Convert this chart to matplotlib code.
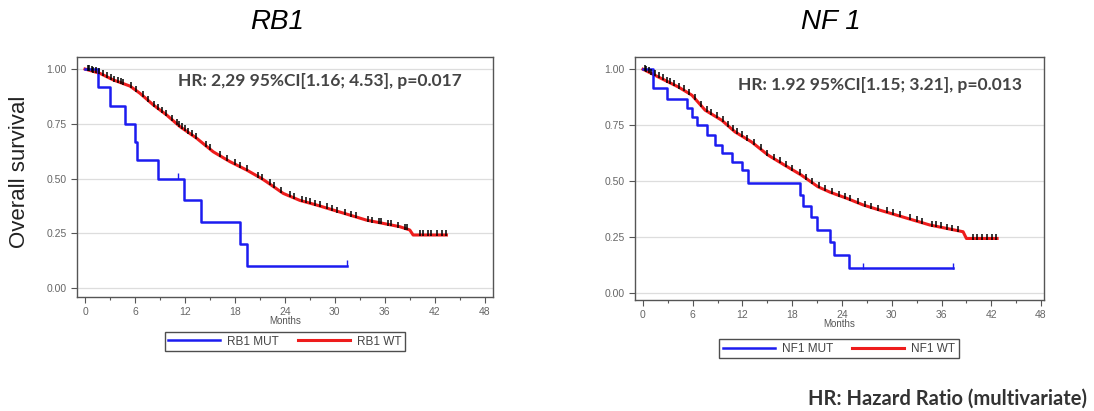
import numpy as np
import matplotlib
matplotlib.use("Agg")
import matplotlib.pyplot as plt
from matplotlib.ticker import MultipleLocator

plt.rcParams["font.family"] = ["Liberation Sans", "DejaVu Sans"]

# ---- data ----
# RB1 mutant: Kaplan-Meier steps (time in months, survival)
rb1_mut_t = [0, 1.5, 3.0, 4.8, 6.0, 6.2, 8.8, 11.9, 13.9, 18.6, 19.5, 31.4]
rb1_mut_s = [1.0, 0.917, 0.833, 0.75, 0.667, 0.583, 0.5, 0.4, 0.3, 0.2, 0.1, 0.1]
rb1_mut_cens = [11.2, 31.4]

# RB1 wild type
rb1_wt_t = [0, 1.8, 3.4, 5.4, 6.6, 8.2, 9.8, 11.4, 13.4, 15.4, 17.4, 19.4, 21.2,
            21.8, 23.8, 25.8, 27.8, 29.8, 31.8, 33.8, 35.8, 37.8, 39.0, 39.4, 43.4]
rb1_wt_s = [1.0, 0.98, 0.95, 0.922, 0.889, 0.836, 0.79, 0.737, 0.684, 0.622, 0.577,
            0.539, 0.50, 0.485, 0.432, 0.40, 0.379, 0.356, 0.333, 0.31, 0.295, 0.28,
            0.265, 0.242, 0.242]
rb1_wt_cens = [0.3, 0.5, 0.8, 1.0, 1.3, 1.7, 2.2, 2.6, 3.1, 3.5, 4.0, 4.3, 4.6, 5.5,
               6.1, 7.0, 7.6, 8.3, 8.8, 9.3, 9.7, 10.5, 11.0, 11.3, 11.6, 12.0, 12.4,
               12.8, 13.3, 14.5, 15.0, 16.2, 17.0, 18.0, 18.6, 19.4, 20.8, 21.3, 22.2,
               22.7, 23.5, 24.6, 25.1, 26.1, 26.5, 27.0, 27.6, 28.2, 29.0, 29.6, 30.3,
               31.2, 32.0, 32.6, 34.0, 34.5, 35.3, 35.6, 36.4, 36.8, 37.6, 38.4, 38.7,
               40.2, 40.6, 41.2, 41.6, 42.3, 42.9, 43.3]
rb1_hr = "HR: 2,29 95%CI[1.16; 4.53], p=0.017"

# NF1 mutant
nf1_mut_t = [0, 1.25, 2.9, 5.3, 5.9, 6.5, 7.7, 8.7, 9.5, 10.7, 11.9, 12.7, 18.9,
             19.3, 20.3, 21.0, 22.6, 23.0, 24.8, 37.4]
nf1_mut_s = [1.0, 0.914, 0.869, 0.825, 0.787, 0.75, 0.705, 0.66, 0.624, 0.586, 0.549,
             0.49, 0.44, 0.39, 0.34, 0.28, 0.23, 0.17, 0.11, 0.11]
nf1_mut_cens = [26.5, 37.4]

# NF1 wild type
nf1_wt_t = [0, 2.25, 4.3, 5.9, 7.5, 9.5, 11.1, 13.1, 15.1, 17.1, 19.1, 21.1, 22.6,
            24.6, 26.6, 28.6, 30.6, 32.6, 34.6, 36.6, 38.6, 39.0, 42.7]
nf1_wt_s = [1.0, 0.958, 0.92, 0.884, 0.817, 0.772, 0.72, 0.675, 0.616, 0.571, 0.527,
            0.475, 0.45, 0.423, 0.393, 0.37, 0.348, 0.326, 0.304, 0.289, 0.274, 0.244,
            0.244]
nf1_wt_cens = [0.2, 0.4, 0.7, 1.0, 1.4, 1.9, 2.4, 2.9, 3.3, 3.8, 4.4, 4.9, 5.6, 6.3,
               7.0, 7.7, 8.2, 8.9, 9.6, 10.2, 10.8, 11.3, 11.9, 12.6, 13.4, 14.2, 15.0,
               15.8, 16.5, 17.3, 18.0, 18.9, 19.7, 20.4, 21.2, 22.0, 22.8, 23.6, 24.4,
               25.0, 25.9, 26.8, 27.5, 28.3, 29.4, 30.1, 31.0, 32.2, 33.0, 33.6, 34.8,
               35.3, 35.9, 36.6, 37.3, 38.0, 39.8, 40.3, 40.9, 41.5, 42.1, 42.6]
nf1_hr = "HR: 1.92 95%CI[1.15; 3.21], p=0.013"

BLUE = "#1c1cf0"
RED = "#ee1c1c"
GRAY = "#555555"

fig = plt.figure(figsize=(10.94, 4.11), dpi=100)
fig.patch.set_facecolor("white")


def step_at(times, ts, ss):
    # survival value of a step curve at the given times
    idx = np.searchsorted(ts, times, side="right") - 1
    return np.asarray(ss)[np.clip(idx, 0, len(ss) - 1)]


def km_panel(ax, mut_t, mut_s, mut_c, wt_t, wt_s, wt_c, hr, hr_pos, name, xlim, ylim):
    ax.set_xlim(*xlim)
    ax.set_ylim(*ylim)
    for y in [0, 0.25, 0.5, 0.75, 1.0]:
        ax.axhline(y, color="#dddddd", lw=0.9, zorder=0)

    ax.plot(mut_t, mut_s, drawstyle="steps-post", color=BLUE, lw=1.8, zorder=3,
            label=name + " MUT")
    ax.plot(mut_c, step_at(mut_c, mut_t, mut_s) + 0.012, ls="none", marker="|",
            ms=5, mew=1.0, color=BLUE, zorder=3)

    ax.plot(wt_t, wt_s, color=RED, lw=2.2, zorder=2, label=name + " WT")
    ax.plot(wt_c, np.interp(wt_c, wt_t, wt_s) + 0.008, ls="none", marker="|",
            ms=5, mew=1.1, color="black", zorder=4)

    ax.set_xticks(range(0, 49, 6))
    ax.xaxis.set_minor_locator(MultipleLocator(3))
    ax.set_yticks([0, 0.25, 0.5, 0.75, 1.0])
    ax.set_yticklabels(["0.00", "0.25", "0.50", "0.75", "1.00"])
    ax.tick_params(labelsize=7.5, colors=GRAY, length=4, width=0.8)
    ax.tick_params(which="minor", length=2.5, width=0.8, colors=GRAY)
    for lab in ax.get_xticklabels() + ax.get_yticklabels():
        lab.set_color("#666666")
    for sp in ax.spines.values():
        sp.set_color(GRAY)
        sp.set_linewidth(1.0)
    ax.set_xlabel("Months", fontsize=7, color="#555555", labelpad=-1)

    ax.text(hr_pos[0], hr_pos[1], hr, transform=ax.transAxes, ha="right",
            va="center", fontsize=12.5, fontweight="bold", color="#444444",
            family="Lato")


ax1 = fig.add_axes([0.0704, 0.2774, 0.380, 0.584])
km_panel(ax1, rb1_mut_t, rb1_mut_s, rb1_mut_cens, rb1_wt_t, rb1_wt_s, rb1_wt_cens,
         rb1_hr, (0.925, 0.90), "RB1", (-0.96, 48.96), (-0.041, 1.055))
fig.text(0.0174, 0.582, "Overall survival", fontsize=16, rotation=90,
         color="#222222", ha="center", va="center")

ax2 = fig.add_axes([0.5804, 0.270, 0.374, 0.591])
km_panel(ax2, nf1_mut_t, nf1_mut_s, nf1_mut_cens, nf1_wt_t, nf1_wt_s, nf1_wt_cens,
         nf1_hr, (0.946, 0.885), "NF1", (-0.965, 48.37), (-0.031, 1.054))

# legends boxed under each panel
for ax, cx, cy in [(ax1, 0.2605, 0.169), (ax2, 0.767, 0.151)]:
    leg = ax.legend(loc="center", bbox_to_anchor=(cx, cy),
                    bbox_transform=fig.transFigure, ncol=2, fontsize=8.5,
                    frameon=True, fancybox=False, handlelength=4.4,
                    columnspacing=1.6, handletextpad=0.6, borderpad=0.3,
                    borderaxespad=0)
    leg.get_frame().set_edgecolor("#222222")
    leg.get_frame().set_linewidth(1.0)
    for t in leg.get_texts():
        t.set_color("#444444")

fig.text(0.253, 0.946, "RB1", fontsize=20, style="italic", ha="center", va="center")
fig.text(0.759, 0.946, "NF 1", fontsize=20, style="italic", ha="center", va="center")

fig.text(0.994, 0.029, "HR: Hazard Ratio (multivariate)", fontsize=14.5,
         fontweight="bold", color="#333333", ha="right", va="center", family="Lato")

fig.savefig("out.png", dpi=100, facecolor="white")
